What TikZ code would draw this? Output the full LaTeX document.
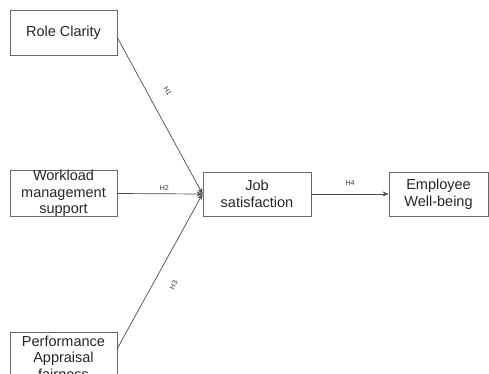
\documentclass[tikz,border=0pt]{standalone}
\usepackage{fontspec}
\setmainfont{Liberation Sans}
\usetikzlibrary{arrows.meta}
\begin{document}
\begin{tikzpicture}[x=1pt,y=-1pt,
  box/.style={draw=black!60,line width=0.9pt,inner sep=0pt,text=black!85,font=\fontsize{14.5}{16.5}\selectfont,align=center},
  conn/.style={draw=black!70,line width=0.7pt,-{Stealth[length=6pt,width=5pt]}},
  hlab/.style={font=\fontsize{7}{8}\selectfont,text=black!80,inner sep=1pt}]
\useasboundingbox (0,0) rectangle (489,373);
\clip (0,0) rectangle (489,373);
\node[box,minimum width=107pt,minimum height=45pt] (rc) at (63.5,32.5) {Role Clarity};
\node[box,minimum width=107pt,minimum height=45pt] (wl) at (63.5,193.5) {Workload\\management\\support};
\node[box,minimum width=107pt,minimum height=56pt,text depth=0pt] (pa) at (63.5,360) {};
\node[text=black!85,font=\fontsize{14.5}{16.5}\selectfont,align=center,anchor=north] (pat) at (63.5,332) {Performance\\Appraisal\\fairness};
\node[box,minimum width=108pt,minimum height=44pt] (js) at (257,194) {Job\\satisfaction};
\node[box,minimum width=99pt,minimum height=44pt] (ew) at (438.5,194) {Employee\\Well-being};
\coordinate (rcout) at (117,37);
\coordinate (paout) at (117,349);
\draw[conn] (rcout) -- node[hlab,sloped,above=15pt,pos=0.40] {H1} (js.west);
\draw[conn] (wl.east) -- node[hlab,above=2pt,pos=0.55] {H2} (js.west);
\draw[conn] (paout) -- node[hlab,sloped,below=15pt,pos=0.47] {H3} (js.west);
\draw[conn] (js.east) -- node[hlab,above=7pt] {H4} (ew.west);
\end{tikzpicture}
\end{document}
